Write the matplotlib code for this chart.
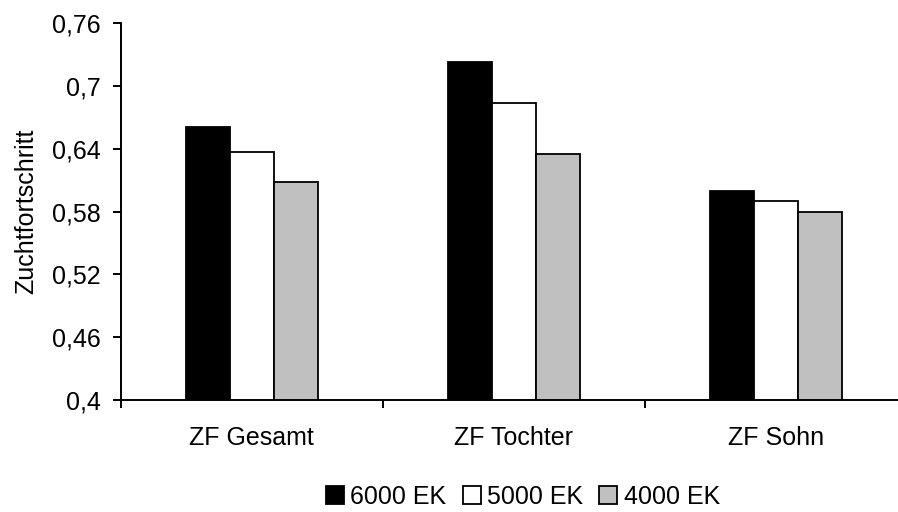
import numpy as np
import matplotlib.pyplot as plt
from matplotlib.ticker import FixedLocator, FuncFormatter

# Data
categories = ["ZF Gesamt", "ZF Tochter", "ZF Sohn"]
series_names = ["6000 EK", "5000 EK", "4000 EK"]
ek6000 = [0.661, 0.723, 0.600]
ek5000 = [0.637, 0.684, 0.590]
ek4000 = [0.608, 0.635, 0.580]
y_ticks = [0.4, 0.46, 0.52, 0.58, 0.64, 0.7, 0.76]

colors = ["#000000", "#FFFFFF", "#C0C0C0"]

plt.rcParams["font.family"] = ["Liberation Sans", "DejaVu Sans"]

fig = plt.figure(figsize=(8.98, 5.12), dpi=100)
ax = fig.add_axes([120.5 / 898, 112 / 512, 787 / 898, 377 / 512])

x = np.arange(len(categories))
width = 0.168
for i, (vals, name) in enumerate(zip([ek6000, ek5000, ek4000], series_names)):
    ax.bar(x + (i - 1) * width, vals, width, color=colors[i], edgecolor="black",
           linewidth=1.3, label=name)

ax.set_xlim(-0.5, 2.5)
ax.set_ylim(0.4, 0.76)
ax.set_yticks(y_ticks)
ax.yaxis.set_major_formatter(FuncFormatter(lambda v, p: ("%g" % round(v, 2)).replace(".", ",")))
ax.set_xticks(x)
ax.set_xticklabels(categories)
ax.xaxis.set_minor_locator(FixedLocator([-0.5, 0.5, 1.5, 2.5]))
ax.tick_params(axis="x", which="major", length=0, pad=19, labelsize=18)
ax.tick_params(axis="x", which="minor", length=6, width=1.4, direction="out")
ax.tick_params(axis="y", length=6, width=1.4, direction="out", labelsize=18, pad=8)

for s in ["top", "right"]:
    ax.spines[s].set_visible(False)
for s in ["left", "bottom"]:
    ax.spines[s].set_linewidth(1.4)

ax.set_ylabel("Zuchtfortschritt", fontsize=18, labelpad=10)

fig.legend(loc="center", bbox_to_anchor=(523 / 898, 1 - 497 / 512), ncol=3,
           frameon=False, fontsize=18, handlelength=0.72, handleheight=0.72,
           handletextpad=0.25, columnspacing=0.65, borderpad=0)

fig.savefig("out.png", dpi=100)
